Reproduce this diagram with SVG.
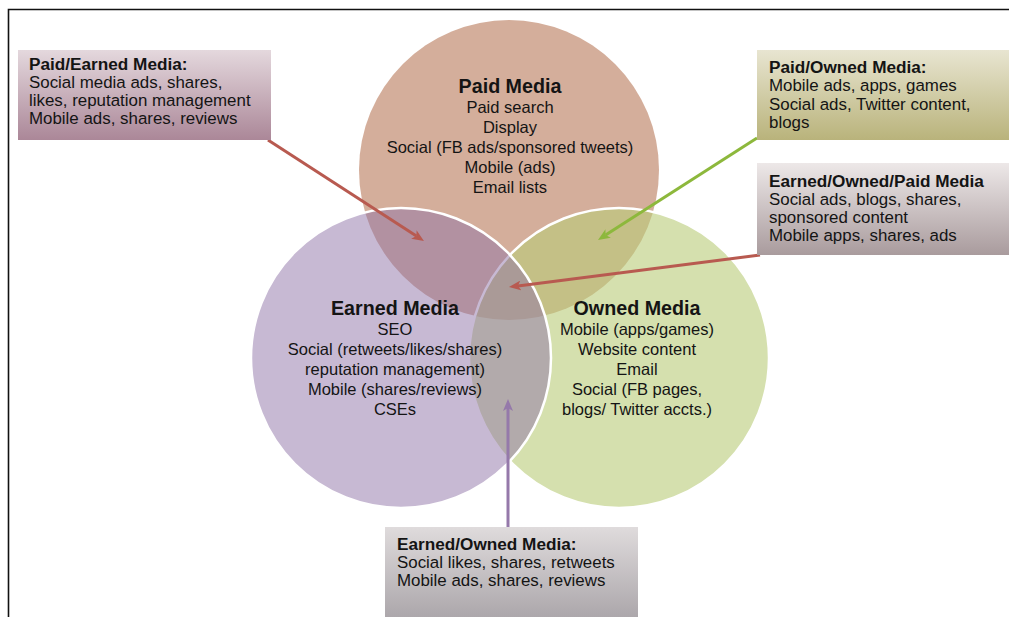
<svg xmlns="http://www.w3.org/2000/svg" width="1009" height="617" viewBox="0 0 1009 617">
  <defs>
    <style>
      text { font-family: "Liberation Sans", Arial, sans-serif; fill: #141414; }
      .ct { font-size: 19.7px; font-weight: bold; text-anchor: middle; }
      .cb { font-size: 16.5px; text-anchor: middle; }
      .bt { font-size: 17.2px; font-weight: bold; }
      .bb { font-size: 16.9px; }
      .conn { fill: none; stroke-width: 3; }
    </style>
    <linearGradient id="gPE" x1="0" y1="0" x2="0" y2="1">
      <stop offset="0" stop-color="#E4D8DD"/>
      <stop offset="1" stop-color="#AB8798"/>
    </linearGradient>
    <linearGradient id="gPO" x1="0" y1="0" x2="0" y2="1">
      <stop offset="0" stop-color="#E8E5D1"/>
      <stop offset="1" stop-color="#B9B37B"/>
    </linearGradient>
    <linearGradient id="gEOP" x1="0" y1="0" x2="0" y2="1">
      <stop offset="0" stop-color="#EDE8E8"/>
      <stop offset="1" stop-color="#A99B9D"/>
    </linearGradient>
    <linearGradient id="gEO" x1="0" y1="0" x2="0" y2="1">
      <stop offset="0" stop-color="#DFDBDC"/>
      <stop offset="1" stop-color="#ACA7AB"/>
    </linearGradient>
    <marker id="headRed" viewBox="0 0 12 10" refX="3" refY="5" markerWidth="12" markerHeight="10" markerUnits="userSpaceOnUse" orient="auto">
      <path d="M0,0 L12,5 L0,10 L3,5 z" fill="#B85A50"/>
    </marker>
    <marker id="headGreen" viewBox="0 0 12 10" refX="3" refY="5" markerWidth="12" markerHeight="10" markerUnits="userSpaceOnUse" orient="auto">
      <path d="M0,0 L12,5 L0,10 L3,5 z" fill="#8DB83C"/>
    </marker>
    <marker id="headPurple" viewBox="0 0 12 10" refX="3" refY="5" markerWidth="12" markerHeight="10" markerUnits="userSpaceOnUse" orient="auto">
      <path d="M0,0 L12,5 L0,10 L3,5 z" fill="#9579AA"/>
    </marker>
  </defs>

  <rect width="1009" height="617" fill="#FFFFFF"/>

  <!-- page frame: top and left rules -->
  <path d="M8.5,617 L8.5,9.5 L1009,9.5" fill="none" stroke="#111" stroke-width="1.6"/>

  <!-- Venn circles -->
  <g id="paid-circle">
    <circle cx="509" cy="170" r="150" fill="#D4AE9B"/>
  </g>
  <g id="owned-circle">
    <circle cx="619" cy="358" r="150" fill="#B9CB78" fill-opacity="0.6" stroke="#FFFFFF" stroke-width="2.5"/>
  </g>
  <g id="earned-circle">
    <circle cx="401" cy="358" r="150" fill="#8F73A7" fill-opacity="0.5" stroke="#FFFFFF" stroke-width="2.5"/>
  </g>

  <!-- circle labels -->
  <g id="paid-label">
    <text class="ct" x="510" y="93">Paid Media</text>
    <text class="cb" x="510" y="113">Paid search</text>
    <text class="cb" x="510" y="133">Display</text>
    <text class="cb" x="510" y="153">Social (FB ads/sponsored tweets)</text>
    <text class="cb" x="510" y="173">Mobile (ads)</text>
    <text class="cb" x="510" y="193">Email lists</text>
  </g>
  <g id="earned-label">
    <text class="ct" x="395" y="315">Earned Media</text>
    <text class="cb" x="395" y="335">SEO</text>
    <text class="cb" x="395" y="355">Social (retweets/likes/shares)</text>
    <text class="cb" x="395" y="375">reputation management)</text>
    <text class="cb" x="395" y="395">Mobile (shares/reviews)</text>
    <text class="cb" x="395" y="415">CSEs</text>
  </g>
  <g id="owned-label">
    <text class="ct" x="637" y="315">Owned Media</text>
    <text class="cb" x="637" y="335">Mobile (apps/games)</text>
    <text class="cb" x="637" y="355">Website content</text>
    <text class="cb" x="637" y="375">Email</text>
    <text class="cb" x="637" y="395">Social (FB pages,</text>
    <text class="cb" x="637" y="415">blogs/ Twitter accts.)</text>
  </g>

  <!-- connectors -->
  <g id="connectors">
    <path class="conn" d="M268,140 L416.4,236.1" stroke="#B85A50" marker-end="url(#headRed)"/>
    <path class="conn" d="M757,138 L605.6,235.1" stroke="#8DB83C" marker-end="url(#headGreen)"/>
    <path class="conn" d="M760,255 L517.9,285.9" stroke="#B85A50" marker-end="url(#headRed)"/>
    <path class="conn" d="M508,527 L508,408" stroke="#9579AA" marker-end="url(#headPurple)"/>
  </g>

  <!-- callout boxes -->
  <g id="paid-earned">
    <rect x="18" y="50" width="253" height="90" fill="url(#gPE)"/>
    <text class="bt" x="29" y="70">Paid/Earned Media:</text>
    <text class="bb" x="29" y="88">Social media ads, shares,</text>
    <text class="bb" x="29" y="106">likes, reputation management</text>
    <text class="bb" x="29" y="124">Mobile ads, shares, reviews</text>
  </g>
  <g id="paid-owned">
    <rect x="757" y="50" width="252" height="90" fill="url(#gPO)"/>
    <text class="bt" x="769" y="73">Paid/Owned Media:</text>
    <text class="bb" x="769" y="91">Mobile ads, apps, games</text>
    <text class="bb" x="769" y="110">Social ads, Twitter content,</text>
    <text class="bb" x="769" y="128">blogs</text>
  </g>
  <g id="earned-owned-paid">
    <rect x="757" y="163" width="252" height="92" fill="url(#gEOP)"/>
    <text class="bt" x="769" y="187">Earned/Owned/Paid Media</text>
    <text class="bb" x="769" y="205">Social ads, blogs, shares,</text>
    <text class="bb" x="769" y="223">sponsored content</text>
    <text class="bb" x="769" y="241">Mobile apps, shares, ads</text>
  </g>
  <g id="earned-owned">
    <rect x="385" y="527" width="253" height="90" fill="url(#gEO)"/>
    <text class="bt" x="397" y="550">Earned/Owned Media:</text>
    <text class="bb" x="397" y="568">Social likes, shares, retweets</text>
    <text class="bb" x="397" y="586">Mobile ads, shares, reviews</text>
  </g>
</svg>
